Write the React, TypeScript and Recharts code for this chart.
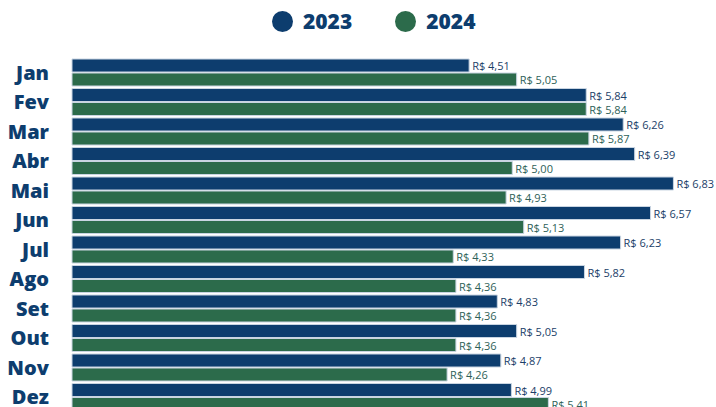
import { BarChart, Bar, XAxis, YAxis, LabelList } from 'recharts';

const months = ['Jan', 'Fev', 'Mar', 'Abr', 'Mai', 'Jun', 'Jul', 'Ago', 'Set', 'Out', 'Nov', 'Dez'];
const values2023 = [4.51, 5.84, 6.26, 6.39, 6.83, 6.57, 6.23, 5.82, 4.83, 5.05, 4.87, 4.99];
const values2024 = [5.05, 5.84, 5.87, 5.0, 4.93, 5.13, 4.33, 4.36, 4.36, 4.36, 4.26, 5.41];
const seriesNames = ['2023', '2024'];

const data = months.map((m, i) => ({
  name: m,
  y2023: values2023[i],
  y2024: values2024[i],
}));

const BLUE = '#0d3d6e';
const GREEN = '#2c6b4b';
const FONT = '"Open Sans", sans-serif';

const fmt = (v: any) => 'R$ ' + Number(v).toFixed(2).replace('.', ',');

// plain svg text so the label never wraps
const makeLabel = (color: string) => (props: any) => {
  const { x, y, width, height, value } = props;
  return (
    <text
      x={x + width + 3}
      y={y + height / 2}
      dominantBaseline="central"
      fill={color}
      fontSize={11}
      fontFamily={FONT}
    >
      {fmt(value)}
    </text>
  );
};

const LegendRow = () => (
  <div
    style={{
      position: 'absolute',
      top: 9,
      left: 272,
      display: 'flex',
      fontFamily: FONT,
    }}
  >
    {seriesNames.map((s, i) => (
      <div key={s} style={{ display: 'flex', alignItems: 'center', marginLeft: i ? 43 : 0 }}>
        <span
          style={{
            width: 21,
            height: 21,
            borderRadius: '50%',
            background: i ? GREEN : BLUE,
            display: 'inline-block',
            marginRight: 10,
          }}
        />
        <span style={{ color: BLUE, fontWeight: 800, fontSize: 21, lineHeight: '24px' }}>{s}</span>
      </div>
    ))}
  </div>
);

export default function App() {
  return (
    <div style={{ position: 'fixed', left: 0, top: 0, width: 716, height: 407, overflow: 'hidden', background: '#fff' }}>
      <LegendRow />
      <BarChart
        width={716}
        height={420}
        data={data}
        layout="vertical"
        margin={{ top: 58, right: 10, bottom: 8, left: 0 }}
        barGap={1}
        barSize={13}
      >
        <XAxis type="number" domain={[0, 7.2]} hide />
        <YAxis
          type="category"
          dataKey="name"
          width={72}
          interval={0}
          axisLine={false}
          tickLine={false}
          tickMargin={17}
          tick={{ fill: BLUE, fontSize: 20, fontWeight: 800, fontFamily: FONT }}
        />
        <Bar dataKey="y2023" fill={BLUE} stroke="#c9d5e2" strokeWidth={1} isAnimationActive={false}>
          <LabelList dataKey="y2023" content={makeLabel('#1b3e68')} />
        </Bar>
        <Bar dataKey="y2024" fill={GREEN} stroke="#c9d5e2" strokeWidth={1} isAnimationActive={false}>
          <LabelList dataKey="y2024" content={makeLabel('#2e5f58')} />
        </Bar>
      </BarChart>
    </div>
  );
}
